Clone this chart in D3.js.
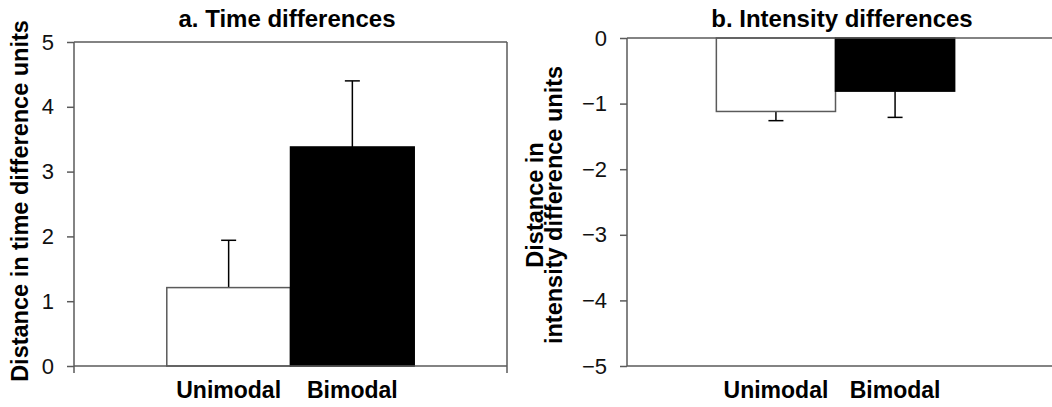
<!DOCTYPE html>
<html>
<head>
<meta charset="utf-8">
<script src="https://cdn.jsdelivr.net/npm/d3@7"></script>
<style>
  html, body { margin: 0; padding: 0; background: #fff; }
  svg { display: block; font-family: "Liberation Sans", Arial, sans-serif; }
</style>
</head>
<body>
<svg id="chart" width="1052" height="407"></svg>
<script>
const categories = ['Unimodal', 'Bimodal']
const timeMeans = [1.21, 3.38]
const timeErrors = [0.73, 1.02]
const intensityMeans = [-1.12, -0.81]
const intensityErrors = [0.14, 0.40]
const timeTicks = [0, 1, 2, 3, 4, 5]
const intensityTicks = [0, -1, -2, -3, -4, -5]
const barFills = ['#ffffff', '#000000']

const AXIS_COLOR = '#5a5a5a'
const svg = d3.select('#chart')

drawPanel({
    left: 74, right: 507, top: 42, bottom: 366,
    domain: [0, 5], ticks: timeTicks,
    means: timeMeans, errors: timeErrors,
    title: 'a. Time differences', titleX: 287,
    yLabel: ['Distance in time difference units'], yLabelX: [28], yLabelY: 201,
    frameRight: true, lineEnd: 507
})

drawPanel({
    left: 627, right: 1044, top: 38, bottom: 366,
    domain: [-5, 0], ticks: intensityTicks,
    means: intensityMeans, errors: intensityErrors,
    title: 'b. Intensity differences', titleX: 842,
    yLabel: ['Distance in', 'intensity difference units'], yLabelX: [543, 562], yLabelY: 205,
    frameRight: false, lineEnd: 1052
})

function drawPanel(cfg) {
    const g = svg.append('g')

    const x = d3.scaleBand()
        .domain(categories)
        .range([cfg.left, cfg.right])
        .paddingInner(0)
        .paddingOuter(0.75)

    const y = d3.scaleLinear()
        .domain(cfg.domain)
        .range([cfg.bottom, cfg.top])

    const rows = categories.map((c, i) => ({
        name: c, mean: cfg.means[i], err: cfg.errors[i], fill: barFills[i]
    }))

    // error bars first so the bar edge sits over the stem
    const errG = g.append('g')
        .attr('stroke', '#000')
        .attr('stroke-width', 1.5)
    rows.forEach(d => {
        const cx = x(d.name) + x.bandwidth() / 2
        const end = d.mean + Math.sign(d.mean) * d.err
        errG.append('line')
            .attr('x1', cx).attr('x2', cx)
            .attr('y1', y(d.mean)).attr('y2', y(end))
        errG.append('line')
            .attr('x1', cx - 7.5).attr('x2', cx + 7.5)
            .attr('y1', y(end)).attr('y2', y(end))
    })

    g.append('g')
        .selectAll('rect')
        .data(rows)
        .join('rect')
        .attr('x', d => x(d.name))
        .attr('width', x.bandwidth())
        .attr('y', d => y(Math.max(0, d.mean)))
        .attr('height', d => Math.abs(y(d.mean) - y(0)))
        .attr('fill', d => d.fill)
        .attr('stroke', d => d.fill === '#000000' ? '#000' : AXIS_COLOR)
        .attr('stroke-width', 1.5)

    // y axis
    const axis = g.append('g')
        .attr('transform', `translate(${cfg.left},0)`)
        .call(d3.axisLeft(y)
            .tickValues(cfg.ticks)
            .tickFormat(d3.format('d'))
            .tickSize(7)
            .tickSizeOuter(0)
            .tickPadding(13))
    axis.select('.domain').remove()
    axis.selectAll('.tick line').attr('stroke', AXIS_COLOR).attr('stroke-width', 1.5)
    axis.selectAll('.tick text')
        .attr('font-family', '"Liberation Sans", Arial, sans-serif')
        .attr('font-size', 22)
        .attr('fill', '#111')

    const lines = g.append('g')
        .attr('stroke', AXIS_COLOR)
        .attr('stroke-width', 1.5)
        .attr('fill', 'none')

    const yMin = y(cfg.domain[0])
    const yMax = y(cfg.domain[1])
    const yZero = y(0)

    lines.append('line')
        .attr('x1', cfg.left).attr('x2', cfg.left)
        .attr('y1', yMax).attr('y2', cfg.frameRight ? yMin + 7 : yMin)
    lines.append('line')
        .attr('x1', cfg.left).attr('x2', cfg.lineEnd)
        .attr('y1', yMax).attr('y2', yMax)
    lines.append('line')
        .attr('x1', cfg.left).attr('x2', cfg.lineEnd)
        .attr('y1', yMin).attr('y2', yMin)
    if (cfg.frameRight) {
        lines.append('line')
            .attr('x1', cfg.lineEnd).attr('x2', cfg.lineEnd)
            .attr('y1', yMax).attr('y2', yZero + 7)
    }

    // titles and labels
    g.append('text')
        .attr('x', cfg.titleX)
        .attr('y', 26.5)
        .attr('text-anchor', 'middle')
        .attr('font-weight', 'bold')
        .attr('font-size', 24)
        .attr('fill', '#000')
        .text(cfg.title)

    g.append('g')
        .selectAll('text')
        .data(rows)
        .join('text')
        .attr('x', d => x(d.name) + x.bandwidth() / 2)
        .attr('y', 398)
        .attr('text-anchor', 'middle')
        .attr('font-weight', 'bold')
        .attr('font-size', 23)
        .attr('fill', '#000')
        .text(d => d.name)

    cfg.yLabel.forEach((line, i) => {
        g.append('text')
            .attr('transform', `translate(${cfg.yLabelX[i]},${cfg.yLabelY}) rotate(-90)`)
            .attr('text-anchor', 'middle')
            .attr('font-weight', 'bold')
            .attr('font-size', 23.5)
            .attr('fill', '#000')
            .text(line)
    })
}
</script>
</body>
</html>
